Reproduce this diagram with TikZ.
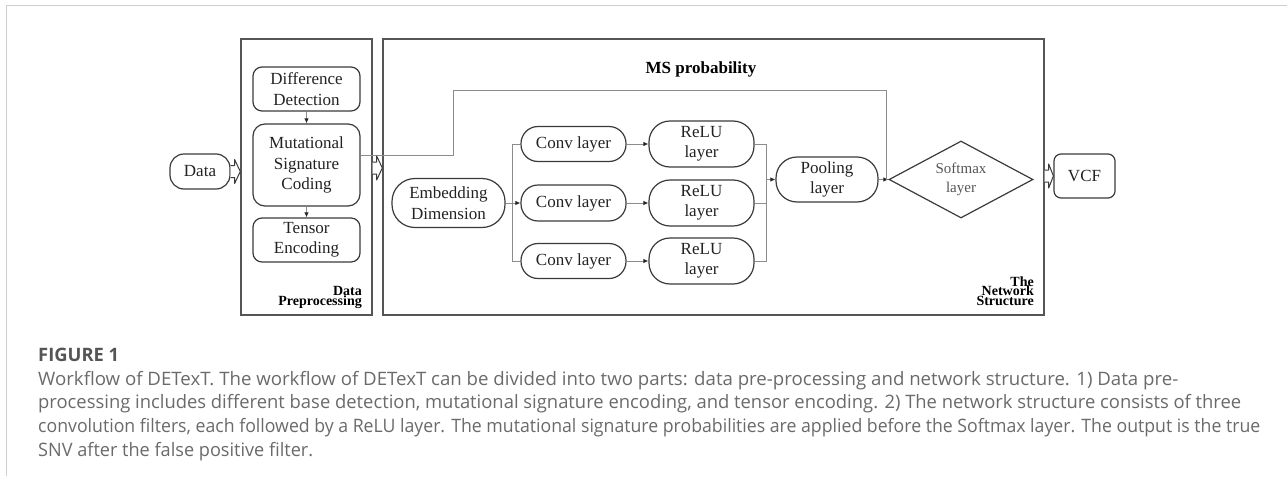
\documentclass[tikz,border=0pt]{standalone}
\usepackage{fontspec}
\setmainfont{Liberation Serif}
\newfontfamily\capfont{Open Sans}
\usetikzlibrary{shapes.geometric,arrows.meta,calc}
\definecolor{boxc}{HTML}{3A3A3A}
\definecolor{linec}{HTML}{8C8C8C}
\definecolor{framec}{HTML}{555555}
\definecolor{txtc}{HTML}{222222}
\definecolor{capc}{HTML}{6A6A6A}
\definecolor{rulec}{HTML}{CFCFCF}
\newcommand\tightlines{\lineskiplimit -20pt\lineskip 0pt\relax}
\newcommand\hollowarr[2]{%
  \draw[hollow] ($(#1)+(0,-6)$) -- ($(#1)+(4,-6)$) -- ($(#1)+(4,-12)$) -- (#2)
    -- ($(#1)+(4,12)$) -- ($(#1)+(4,6)$) -- ($(#1)+(0,6)$);}
\begin{document}
\begin{tikzpicture}[x=1pt,y=-1pt,
  base/.style={draw=boxc, line width=1.2pt, align=center, inner sep=0pt, text=txtc,
    font=\fontsize{17}{20.5}\selectfont},
  frame/.style={draw=framec, line width=1.4pt, inner sep=0pt},
  conn/.style={draw=linec, line width=1pt},
  arr/.style={conn, -{Latex[length=5pt,width=4.5pt,color=black!85]}},
  hollow/.style={draw=boxc, line width=1pt, fill=white, line join=round},
  lbl/.style={inner sep=0pt, align=right, text=black,
    font=\bfseries\fontsize{14}{9.8}\selectfont\tightlines},
  caption/.style={inner sep=0pt, anchor=base west, text=capc,
    font=\capfont\fontsize{18.5}{18.5}\selectfont}]
\useasboundingbox (0,0) rectangle (1287,479);
% outer page rules
\draw[rulec, line width=1.6pt] (6.5,476) -- (6.5,5.5) -- (1287,5.5);

% frames
\node[frame, minimum width=131pt, minimum height=276pt] (pre) at (306.5,177) {};
\node[frame, minimum width=661pt, minimum height=276pt] (net) at (713.5,177) {};
\node[lbl, anchor=south east] (prelbl) at (362,309) {Data\\Preprocessing};
\node[lbl, anchor=south east] (netlbl) at (1034,306) {The\\Network\\Structure};

% outside nodes
\node[base, minimum width=60pt, minimum height=35pt, rounded corners=14pt] (data) at (200,171.5) {Data};
\node[base, minimum width=61pt, minimum height=44pt, rounded corners=7pt] (vcf) at (1084.5,176) {VCF};

% preprocessing nodes
\node[base, minimum width=107pt, minimum height=44pt, rounded corners=9pt] (diff) at (306.5,89) {Difference\\Detection};
\node[base, minimum width=107pt, minimum height=82pt, rounded corners=12pt] (mut) at (306.5,165) {Mutational\\Signature\\Coding};
\node[base, minimum width=107pt, minimum height=44pt, rounded corners=9pt] (tens) at (306.5,240) {Tensor\\Encoding};
\draw[arr] (diff) -- (mut);
\draw[arr] (mut) -- (tens);

% network nodes
\node[base, minimum width=113pt, minimum height=49pt, rounded corners=23pt] (emb) at (448.5,203) {Embedding\\Dimension};
\node[base, minimum width=105pt, minimum height=35pt, rounded corners=17pt] (c1) at (573.5,144) {Conv layer};
\node[base, minimum width=105pt, minimum height=36pt, rounded corners=17pt] (c2) at (573.5,203) {Conv layer};
\node[base, minimum width=105pt, minimum height=35pt, rounded corners=17pt] (c3) at (573.5,261) {Conv layer};
\node[base, minimum width=105pt, minimum height=46pt, rounded corners=21pt] (r1) at (701.5,144) {ReLU\\layer};
\node[base, minimum width=105pt, minimum height=46pt, rounded corners=21pt] (r2) at (701.5,203) {ReLU\\layer};
\node[base, minimum width=105pt, minimum height=46pt, rounded corners=21pt] (r3) at (701.5,261) {ReLU\\layer};
\node[base, minimum width=102pt, minimum height=45pt, rounded corners=21pt] (pool) at (827,179.5) {Pooling\\layer};
\node[base, shape=diamond, aspect=1.87, minimum width=144pt, minimum height=77pt,
  text=framec, font=\fontsize{15}{19}\selectfont] (soft) at (961,179.5) {Softmax\\layer};
\node[inner sep=0pt, font=\bfseries\fontsize{17}{20}\selectfont] (ms) at (701,69) {MS probability};

% branches from embedding
\draw[conn] (emb.east) -- ++(7,0) coordinate (b);
\draw[conn] (b |- c1.west) -- (c1.west);
\draw[conn] (b |- c1.west) -- (b |- c3.west) -- (c3.west);
\draw[arr] (b) -- (c2.west);
\draw[arr] (c1) -- (r1);
\draw[arr] (c2) -- (r2);
\draw[arr] (c3) -- (r3);
% merge into pooling
\draw[conn] (r1.east) -- ++(12,0) coordinate (m) -- (m |- r3.east) -- (r3.east);
\draw[conn] (r2.east) -- (r2.east -| m);
\draw[arr] (m |- pool.west) -- (pool.west);
\draw[arr] (pool.east) -- (soft.west);

% MS probability path
\coordinate (ms1) at (453,90);
\coordinate (ms2) at (886,90);
\draw[conn] ([yshift=10pt]mut.east) -| (ms1) -- (ms2) -- (ms2 |- soft.west);

% hollow block arrows
\coordinate (h1s) at (data.east);
\coordinate (h1e) at (data.east -| pre.west);
\coordinate (h2s) at (pre.east |- 0,168);
\coordinate (h2e) at (net.west |- 0,168);
\coordinate (h3s) at (vcf.west -| net.east);
\coordinate (h3e) at (vcf.west);
\hollowarr{h1s}{h1e}
\hollowarr{h2s}{h2e}
\hollowarr{h3s}{h3e}

% caption
\node[caption, font=\capfont\bfseries\fontsize{18.5}{18.5}\selectfont, text=framec] (fig) at (38,361) {\resizebox{81pt}{\height}{FIGURE 1}};
\node[caption] (cap1) at (38,385) {\resizebox{1140pt}{\height}{Workflow of DETexT. The workflow of DETexT can be divided into two parts: data pre-processing and network structure. 1) Data pre-}};
\node[caption] (cap2) at (38,408.5) {\resizebox{1203pt}{\height}{processing includes different base detection, mutational signature encoding, and tensor encoding. 2) The network structure consists of three}};
\node[caption] (cap3) at (38,432) {\resizebox{1222pt}{\height}{convolution filters, each followed by a ReLU layer. The mutational signature probabilities are applied before the Softmax layer. The output is the true}};
\node[caption] (cap4) at (38,456) {\resizebox{275pt}{\height}{SNV after the false positive filter.}};
\end{tikzpicture}
\end{document}
